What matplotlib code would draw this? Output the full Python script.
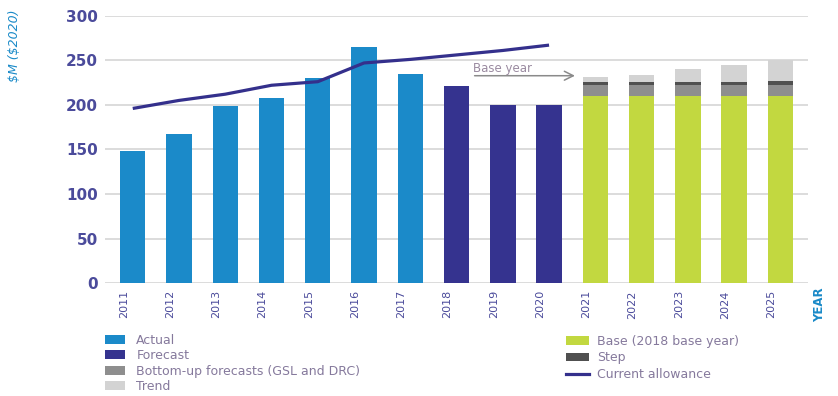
import matplotlib
matplotlib.use("Agg")
import matplotlib.pyplot as plt
import matplotlib.transforms as mtransforms
from matplotlib.patches import Patch
from matplotlib.lines import Line2D
import numpy as np

# values ($M, $2020)
years = [str(y) for y in range(2011, 2026)]
actual = [148, 167, 199, 208, 230, 265, 235]           # 2011-2017
forecast = [221, 200, 200]                             # 2018-2020
base = [210, 210, 210, 210, 210]                       # 2021-2025
bottom_up = [12, 12, 12, 12, 12]
step = [4, 4, 4, 4, 5]
trend = [5, 8, 14, 19, 23]
allowance = [196, 205, 212, 222, 226, 247, 251, 256, 261, 267]  # 2011-2020

c_actual = '#1b8ac9'
c_forecast = '#35338f'
c_base = '#c2d840'
c_bottom = '#8e8e8e'
c_step = '#505050'
c_trend = '#d3d3d3'
c_line = '#34308c'
c_tick = '#4b4b9b'
c_legtxt = '#85799c'
c_blue = '#1a8ac8'

fig = plt.figure(figsize=(8.38, 3.96), dpi=100)
ax = fig.add_axes([0.1253, 0.2846, 0.839, 0.6758])

x = np.arange(len(years))
w = 0.55
xa = x[:len(actual)]
xf = x[len(actual):len(actual) + len(forecast)]
xb = x[len(actual) + len(forecast):]

ax.bar(xa, actual, w, color=c_actual, zorder=3)
ax.bar(xf, forecast, w, color=c_forecast, zorder=3)
bot = np.array(base, dtype=float)
ax.bar(xb, base, w, color=c_base, zorder=3)
ax.bar(xb, bottom_up, w, bottom=bot, color=c_bottom, zorder=3)
bot = bot + bottom_up
ax.bar(xb, step, w, bottom=bot, color=c_step, zorder=3)
bot = bot + step
ax.bar(xb, trend, w, bottom=bot, color=c_trend, zorder=3)

ax.plot(x[:len(allowance)], allowance, color=c_line, lw=2.3, zorder=4,
        solid_capstyle='butt')

# base year arrow
ax.annotate('', xy=(9.62, 232.7), xytext=(7.33, 232.7),
            arrowprops=dict(arrowstyle='->', color='#8a8a8a', lw=1.1,
                            mutation_scale=16), zorder=5)
ax.text(7.36, 241, 'Base year', color='#9a8aa0', fontsize=8.5,
        va='center', ha='left')

ax.set_xlim(-0.6, len(years) - 0.4)
ax.set_ylim(0, 300)
ax.set_yticks(range(0, 301, 50))
ax.set_xticks(x)
ax.set_xticklabels(years, rotation=90, fontsize=8, color=c_tick)
ax.tick_params(axis='y', length=0, pad=5, labelsize=11, labelcolor=c_tick)
ax.tick_params(axis='x', length=0, pad=5)
for lab in ax.get_yticklabels():
    lab.set_fontweight('bold')
off = mtransforms.ScaledTranslation(-0.09, 0, fig.dpi_scale_trans)
for lab in ax.get_xticklabels():
    lab.set_transform(lab.get_transform() + off)

ax.yaxis.grid(True, color='#d6d6d6', lw=1.2, zorder=0)
ax.set_axisbelow(True)
for s in ax.spines.values():
    s.set_visible(False)

fig.text(0.017, 1 - 10 / 396, r'\$M (\$2020)', rotation=90, style='italic',
         color=c_blue, fontsize=9, ha='center', va='top')
fig.text(820 / 838, 1 - 287 / 396, 'YEAR', rotation=90, fontweight='bold',
         color=c_blue, fontsize=8.5, ha='center', va='top')

h1 = [Patch(facecolor=c_actual, label='Actual'),
      Patch(facecolor=c_forecast, label='Forecast'),
      Patch(facecolor=c_bottom, label='Bottom-up forecasts (GSL and DRC)'),
      Patch(facecolor=c_trend, label='Trend')]
h2 = [Patch(facecolor=c_base, label='Base (2018 base year)'),
      Patch(facecolor=c_step, label='Step'),
      Line2D([], [], color=c_line, lw=2.3, label='Current allowance')]

leg1 = fig.legend(handles=h1, loc='upper left',
                  bbox_to_anchor=(105 / 838, 1 - 333.5 / 396),
                  frameon=False, fontsize=9, labelspacing=0.2,
                  borderpad=0, borderaxespad=0, handlelength=1.6,
                  handleheight=0.7, handletextpad=0.9, labelcolor=c_legtxt)
leg2 = fig.legend(handles=h2, loc='upper left',
                  bbox_to_anchor=(566 / 838, 1 - 334.5 / 396),
                  frameon=False, fontsize=9, labelspacing=0.3,
                  borderpad=0, borderaxespad=0, handlelength=1.8,
                  handleheight=0.7, handletextpad=0.7, labelcolor=c_legtxt)

fig.savefig('out.png', dpi=100)
